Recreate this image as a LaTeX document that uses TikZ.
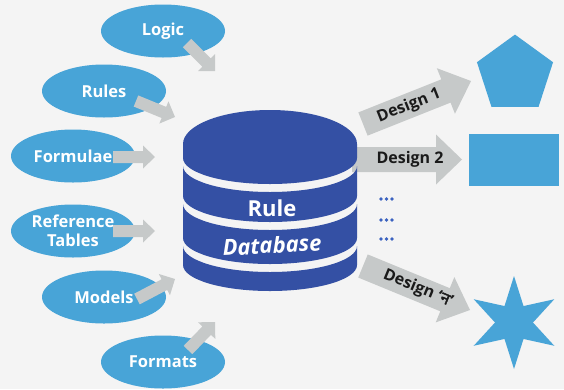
\documentclass[tikz,border=0pt]{standalone}
\usepackage{fontspec}
\setmainfont{Open Sans}
\newfontfamily\devfont[Script=Devanagari, AutoFakeBold=2.5]{Noto Sans}
\usetikzlibrary{calc,shapes.geometric}

\definecolor{bgcol}{HTML}{F4F4F4}
\definecolor{skyblue}{HTML}{48A4D7}
\definecolor{dbblue}{HTML}{3450A4}
\definecolor{arrowgray}{HTML}{C6C9C9}
\definecolor{dotblue}{HTML}{3A62C0}
\definecolor{labelink}{HTML}{1A1A1A}

% block arrow: name, tail, tip, shaft half width, head half width, head length
\newcommand\blockarrow[6]{%
  \coordinate (#1-b) at ($(#3)!#6!(#2)$);
  \fill[arrowgray] ($(#2)!#4!90:(#3)$) -- ($(#1-b)!#4!-90:(#2)$)
    -- ($(#1-b)!#5!-90:(#2)$) -- (#3) -- ($(#1-b)!#5!90:(#2)$)
    -- ($(#1-b)!#4!90:(#2)$) -- ($(#2)!#4!-90:(#3)$) -- cycle;
}

\begin{document}
\begin{tikzpicture}[x=1pt,y=1pt,
  source/.style={ellipse, fill=skyblue, minimum width=124pt, minimum height=53pt,
    inner sep=0pt, text=white, align=center,
    font=\bfseries\fontsize{16.5}{20}\selectfont},
  dlabel/.style={text=labelink, inner sep=0pt, font=\bfseries\fontsize{16}{19}\selectfont},
  dbtext/.style={text=white, inner sep=0pt, font=\bfseries\fontsize{22}{26}\selectfont},
  dbband/.style={fill=dbblue},
  shapefill/.style={fill=skyblue}]

\fill[bgcol] (0,0) rectangle (564,-389);
\useasboundingbox (0,0) rectangle (564,-389);

% input sources
\node[source] (logic)    at (163,-31)  {Logic};
\node[source] (rules)    at (104,-91)  {Rules};
\node[source] (formulae) at (73,-156)  {Formulae};
\node[source] (reftab)   at (73,-231)  {Reference\\[-1pt]Tables};
\node[source] (models)   at (104,-297) {Models};
\node[source] (formats)  at (163,-362) {Formats};

% arrow end points
\coordinate (logicA)  at (187,-43);  \coordinate (logicB)  at (215,-71);
\coordinate (rulesA)  at (136,-101); \coordinate (rulesB)  at (175,-117);
\coordinate (formA)   at (113,-157); \coordinate (formB)   at (155,-157);
\coordinate (refA)    at (113,-231); \coordinate (refB)    at (155,-231);
\coordinate (modA)    at (137,-299); \coordinate (modB)    at (175,-279);
\coordinate (fmtA)    at (188,-350); \coordinate (fmtB)    at (215,-322);

\blockarrow{la}{logicA}{logicB}{6pt}{12pt}{12pt}
\blockarrow{ra}{rulesA}{rulesB}{6pt}{12pt}{12pt}
\blockarrow{fa}{formA}{formB}{6pt}{11.5pt}{12pt}
\blockarrow{ta}{refA}{refB}{6pt}{11.5pt}{12pt}
\blockarrow{ma}{modA}{modB}{6pt}{12pt}{12pt}
\blockarrow{oa}{fmtA}{fmtB}{6pt}{12pt}{12pt}

% output arrows
\coordinate (d1A) at (363,-124); \coordinate (d1B) at (471,-81);
\coordinate (d2A) at (352,-159.5); \coordinate (d2B) at (462,-159.5);
\coordinate (dnA) at (363,-266); \coordinate (dnB) at (470,-310);
\blockarrow{o1}{d1A}{d1B}{12.5pt}{24.5pt}{27pt}
\blockarrow{o2}{d2A}{d2B}{12.5pt}{25pt}{26pt}
\blockarrow{on}{dnA}{dnB}{12.5pt}{24.5pt}{27pt}

\node[dlabel, rotate=21.7]  (des1) at (409,-106)   {Design 1};
\node[dlabel]               (des2) at (410,-159.5) {Design 2};
\node[dlabel, rotate=-22.4] (desn) at (418,-288.5) {Design ‘{\devfont\bfseries न}’};

% the database cylinder
\fill[dbband] (183,-144) arc[start angle=180, end angle=0, x radius=87, y radius=34]
  -- (357,-158) arc[start angle=0, end angle=-180, x radius=87, y radius=26] -- cycle;
\fill[dbband] (183,-166) -- (183,-196)
  arc[start angle=180, end angle=360, x radius=87, y radius=26]
  -- (357,-166) arc[start angle=0, end angle=-180, x radius=87, y radius=26] -- cycle;
\fill[dbband] (183,-204) -- (183,-238)
  arc[start angle=180, end angle=360, x radius=87, y radius=26]
  -- (357,-204) arc[start angle=0, end angle=-180, x radius=87, y radius=26] -- cycle;
\fill[dbband] (183,-246) -- (183,-265)
  arc[start angle=180, end angle=360, x radius=87, y radius=26]
  -- (357,-246) arc[start angle=0, end angle=-180, x radius=87, y radius=26] -- cycle;

\node[dbtext] (rule) at (272,-208) {Rule};
\node[dbtext, rotate=3] (database) at (272,-245) {\itshape Database};

% continuation dots
\foreach \yy in {199,220,239}
  \foreach \xx in {381,386.5,392}
    \fill[dotblue] (\xx,-\yy) circle (1.8);

% output shapes
\fill[shapefill] (515,-74.6) +(90:40) -- +(162:40) -- +(234:40) -- +(306:40) -- +(18:40) -- cycle;
\fill[shapefill] (469,-134) rectangle (559,-186);
\fill[shapefill] (514,-322.5)
  +(90:46.5) -- +(120:19) -- +(150:46.5) -- +(180:19) -- +(210:46.5) -- +(240:19)
  -- +(270:46.5) -- +(300:19) -- +(330:46.5) -- +(0:19) -- +(30:46.5) -- +(60:19) -- cycle;

\end{tikzpicture}
\end{document}
